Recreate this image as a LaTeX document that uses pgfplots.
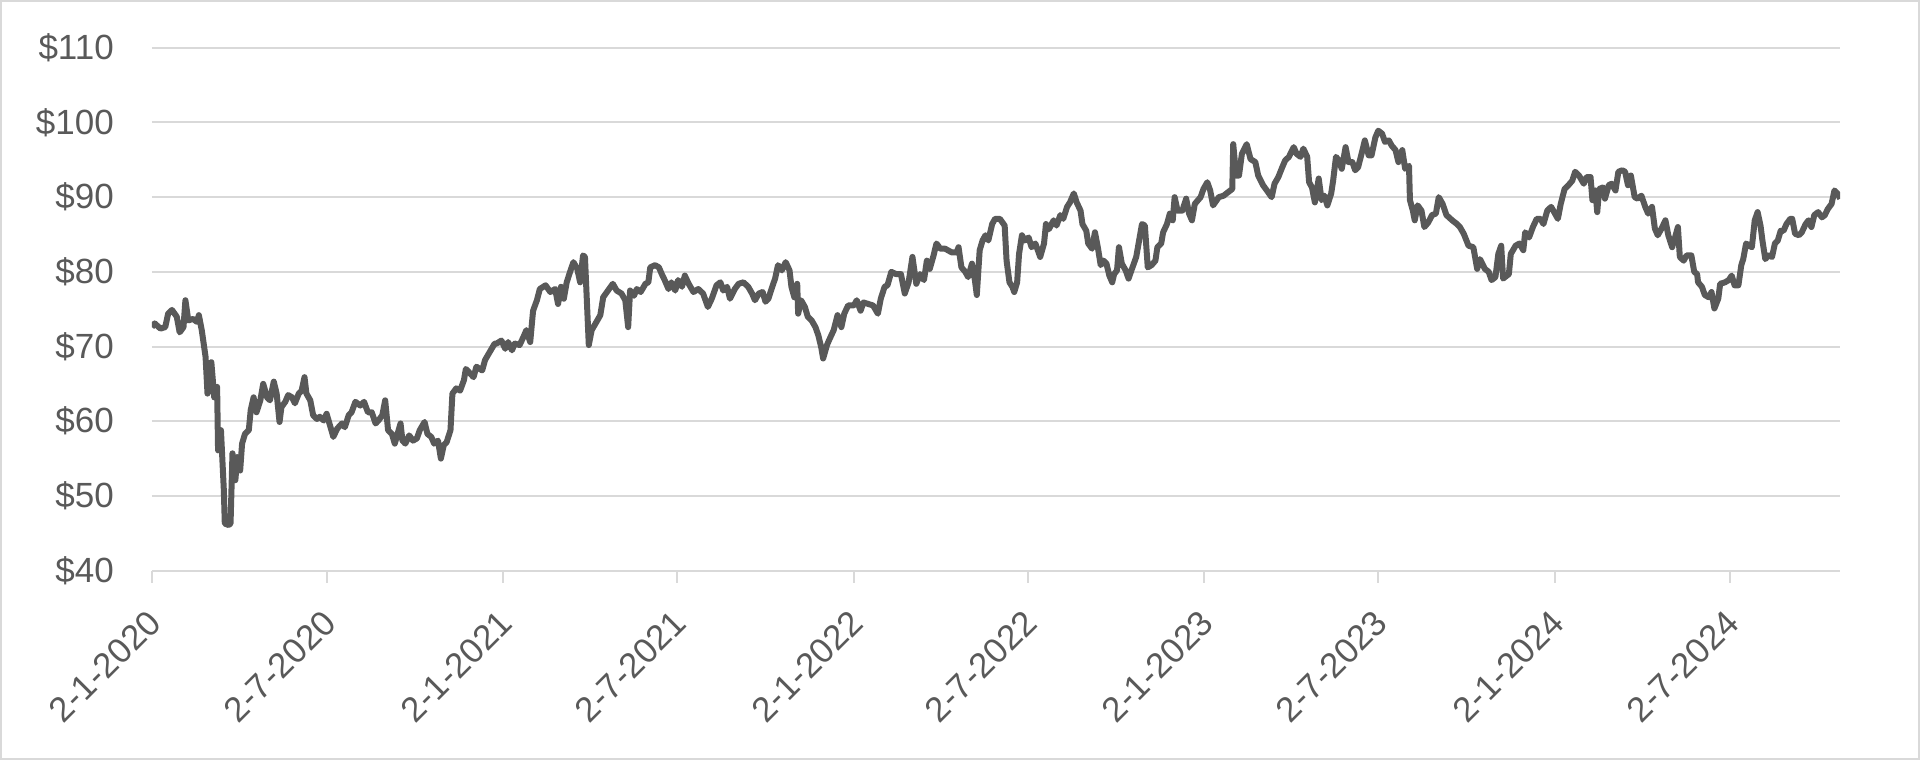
\documentclass[border=0pt]{standalone}
\usepackage{fontspec}
\setmainfont{Liberation Sans}
\usepackage{pgfplots}
\usepackage{pgfplotstable}
\pgfplotsset{compat=1.18}

\definecolor{linegray}{HTML}{595959}
\definecolor{gridgray}{HTML}{D9D9D9}
\definecolor{textgray}{HTML}{595959}

% x = days since 2-1-2020, y = price in dollars
\pgfplotstableread{
day price
0 72.6
3 73.1
9 72.4
14 72.6
17 74.4
21 74.9
26 74.0
29 71.9
33 72.6
35 76.2
38 73.5
43 73.7
47 73.3
49 74.2
52 72.2
56 68.6
58 63.7
61 67.7
62 67.9
65 63.2
68 64.6
69 56.1
72 58.8
75 50.8
76 46.3
80 46.1
82 46.3
84 55.7
87 52.1
89 55.2
92 53.4
94 57.0
97 58.3
101 58.8
103 61.5
106 63.2
109 61.2
113 62.8
116 65.0
120 63.2
123 62.8
127 65.3
130 63.7
133 59.9
135 61.9
139 62.6
142 63.5
146 63.2
149 62.4
153 63.7
156 64.1
159 65.9
161 63.7
165 62.8
168 60.8
172 60.3
175 60.6
179 60.1
182 61.0
187 58.8
189 57.9
193 59.0
198 59.7
201 59.2
205 60.8
208 61.2
212 62.6
217 62.1
221 62.6
225 61.2
229 61.2
233 59.7
236 60.1
240 60.8
243 62.8
246 58.8
250 58.3
253 57.0
255 57.9
259 59.7
261 57.4
264 57.0
268 58.1
272 57.4
276 57.7
279 58.8
284 59.9
287 58.3
291 57.9
294 57.0
298 57.4
301 55.0
304 56.8
307 57.2
311 58.8
313 63.7
317 64.4
321 64.1
325 65.5
327 67.0
330 66.6
335 65.9
338 67.3
344 66.8
347 68.2
352 69.3
357 70.4
359 70.4
364 70.8
368 69.7
371 70.6
375 69.5
378 70.4
383 70.2
387 71.3
390 72.2
394 70.6
397 74.8
401 76.2
404 77.7
410 78.2
415 77.3
420 77.7
423 75.7
426 78.0
429 76.4
432 78.6
436 80.2
439 81.3
443 80.4
446 78.6
449 82.2
451 82.0
455 70.2
458 72.2
463 73.3
467 74.2
470 76.6
475 77.5
480 78.4
484 77.5
489 77.1
493 76.2
496 72.6
498 77.5
502 76.8
505 77.7
509 77.3
514 78.4
517 78.6
519 80.6
524 80.9
528 80.6
531 79.7
534 78.9
538 77.7
541 78.6
545 77.5
548 78.9
552 78.0
555 79.5
559 78.4
564 77.3
569 77.7
574 77.1
579 75.3
583 76.4
588 78.2
592 78.6
595 77.5
599 78.0
602 76.4
607 77.7
611 78.4
616 78.6
621 78.0
625 77.1
628 76.2
632 77.1
636 77.3
639 76.0
642 76.4
646 78.0
649 79.1
652 80.9
656 80.2
660 81.3
664 80.2
666 78.0
669 76.6
672 78.4
673 74.4
676 76.2
680 75.3
683 74.0
687 73.5
691 72.6
694 71.5
697 69.9
699 68.4
703 70.2
705 70.8
710 72.2
714 74.2
718 72.6
721 74.4
725 75.5
731 75.5
734 76.2
738 74.8
741 75.9
746 75.7
751 75.5
756 74.4
759 76.4
763 78.0
766 78.2
770 80.0
775 79.7
780 79.7
784 77.1
788 78.6
792 82.0
796 78.4
800 79.7
804 78.9
807 81.5
810 80.4
814 82.2
817 83.8
821 83.1
826 83.1
833 82.6
838 82.6
840 83.3
843 80.6
847 80.0
850 79.3
854 81.1
857 78.9
859 76.9
862 82.9
865 84.2
868 84.9
871 84.2
875 86.4
878 87.1
883 87.1
888 86.2
890 81.5
893 78.6
896 78.0
898 77.3
901 78.6
903 82.4
906 84.9
909 84.2
913 84.6
916 83.3
920 83.8
925 82.0
929 83.8
931 86.4
934 85.7
939 86.9
942 86.2
946 87.6
949 87.1
953 88.7
956 89.3
960 90.5
963 89.3
967 88.2
969 86.4
973 85.5
975 83.8
979 83.1
982 85.3
985 83.3
988 80.9
991 81.5
994 81.1
997 79.5
1000 78.6
1002 79.7
1005 80.2
1007 83.3
1010 81.1
1014 80.2
1017 79.1
1020 80.2
1025 82.0
1028 84.2
1031 86.4
1034 86.2
1037 80.6
1041 80.9
1045 81.5
1047 83.3
1051 83.8
1053 85.3
1057 86.4
1060 87.8
1063 86.9
1065 90.0
1068 88.2
1073 88.2
1077 89.8
1080 87.8
1083 86.9
1086 89.1
1092 90.0
1095 91.1
1099 92.0
1102 90.9
1105 88.9
1111 90.0
1116 90.2
1121 90.7
1125 91.1
1126 97.1
1129 92.9
1132 92.9
1135 95.8
1140 97.1
1144 95.1
1149 94.7
1152 92.9
1157 91.6
1161 90.9
1166 90.0
1169 91.8
1173 92.7
1177 94.0
1180 94.9
1184 95.4
1189 96.7
1192 95.8
1196 95.4
1199 96.5
1203 95.4
1205 92.0
1208 91.3
1211 89.3
1215 92.5
1218 89.6
1221 90.2
1224 88.9
1228 90.5
1230 92.2
1233 95.4
1236 94.9
1239 93.8
1243 96.7
1246 94.7
1250 94.7
1253 93.6
1256 94.0
1260 96.0
1263 97.6
1267 95.6
1270 95.6
1274 98.0
1277 98.9
1281 98.5
1284 97.4
1288 97.6
1291 96.9
1295 96.3
1298 94.7
1302 96.3
1305 93.8
1309 94.2
1310 89.6
1313 88.2
1315 86.9
1318 88.9
1322 88.2
1325 86.0
1329 86.6
1333 87.6
1337 87.8
1340 90.0
1344 89.1
1348 87.6
1354 86.9
1359 86.4
1362 86.0
1366 85.1
1371 83.5
1376 83.3
1380 80.4
1383 81.7
1388 80.4
1392 80.0
1395 78.9
1399 79.3
1402 82.4
1405 83.5
1407 79.1
1413 79.7
1415 82.4
1420 83.5
1424 83.8
1428 82.9
1430 85.3
1434 84.6
1438 86.0
1442 87.1
1446 87.1
1449 86.4
1453 88.2
1457 88.7
1461 87.8
1464 87.1
1467 89.1
1471 91.1
1475 91.6
1479 92.2
1482 93.4
1486 92.9
1491 91.8
1494 92.7
1498 92.7
1500 89.6
1503 90.9
1505 88.0
1507 91.1
1511 91.3
1513 89.8
1517 91.6
1520 91.8
1524 90.9
1527 93.4
1531 93.6
1534 93.4
1537 91.6
1540 92.9
1544 90.0
1547 89.8
1551 90.2
1555 88.7
1558 87.8
1562 88.7
1565 85.8
1568 84.9
1572 85.8
1576 86.9
1579 84.9
1583 83.3
1586 84.6
1589 86.0
1591 82.0
1595 81.5
1598 82.2
1603 82.2
1606 80.0
1609 79.7
1610 78.6
1614 78.0
1617 76.9
1621 76.6
1624 77.3
1627 75.1
1631 76.4
1633 78.4
1638 78.6
1642 78.9
1645 79.5
1648 78.2
1652 78.2
1655 80.9
1657 81.7
1660 83.8
1663 83.5
1666 83.3
1669 86.9
1672 88.0
1675 86.2
1677 84.2
1680 81.7
1683 82.2
1687 82.0
1690 83.8
1693 84.2
1696 85.5
1699 85.5
1702 86.4
1706 87.1
1708 87.1
1711 85.1
1715 84.9
1718 85.3
1722 86.4
1725 86.9
1728 86.0
1731 87.6
1735 88.0
1739 87.3
1742 87.6
1745 88.4
1749 89.1
1752 90.9
1755 90.5
1758 89.8
}\prices

\begin{document}
\begin{tikzpicture}
  \begin{axis}[
    at={(0,0)}, anchor=south west,
    scale only axis,
    width=844.2pt, height=261.4pt,
    xmin=0, xmax=1758,
    ymin=40, ymax=110,
    axis line style={draw=none},
    ymajorgrids=true,
    grid style={gridgray, line width=1pt},
    ytick={40,50,60,70,80,90,100,110},
    yticklabels={\$40,\$50,\$60,\$70,\$80,\$90,\$100,\$110},
    xtick={0,182,366,547,731,912,1096,1277,1461,1643},
    xticklabels={2-1-2020,2-7-2020,2-1-2021,2-7-2021,2-1-2022,2-7-2022,2-1-2023,2-7-2023,2-1-2024,2-7-2024},
    xtick pos=left,
    xtick align=outside,
    major tick length=6pt,
    xtick style={gridgray, line width=1pt},
    ytick style={draw=none},
    tick label style={font=\fontsize{17.5}{20}\selectfont, text=textgray},
    yticklabel style={anchor=east, inner sep=0pt, xshift=-18.8pt},
    xticklabel style={xshift=1.5pt, yshift=-17pt, rotate=45, anchor=east, inner sep=0pt},
  ]
    \addplot[linegray, line width=3pt, line join=round, no marks] table {\prices};
  \end{axis}
  \draw[gridgray, line width=1pt] (-75.4pt,-94.2pt) rectangle (883.6pt,284.8pt);
\end{tikzpicture}
\end{document}
